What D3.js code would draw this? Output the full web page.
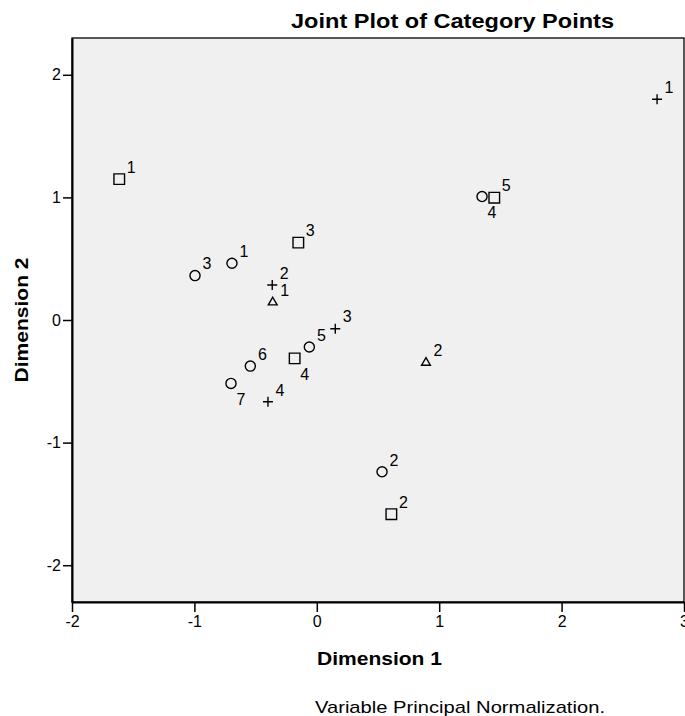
<!DOCTYPE html>
<head>
  <meta charset="utf-8">
  <style>
    body { margin: 0; background: #ffffff; }
    text { font-family: "Liberation Sans", Arial, sans-serif; fill: #000; }
  </style>
  <title>Joint Plot of Category Points</title>
</head>

<body>
  <script src="https://cdn.jsdelivr.net/npm/d3@7"></script>

  <script>
    // category points, one array per variable
    var squareCats = ["1", "2", "3", "4", "5"];
    var squareDim1 = [-1.614, 0.609, -0.151, -0.181, 1.450];
    var squareDim2 = [1.149, -1.584, 0.631, -0.313, 0.998];

    var circleCats = ["1", "2", "3", "4", "5", "6", "7"];
    var circleDim1 = [-0.693, 0.533, -0.995, 1.350, -0.061, -0.543, -0.701];
    var circleDim2 = [0.463, -1.238, 0.362, 1.007, -0.220, -0.376, -0.517];

    var plusCats = ["1", "2", "3", "4"];
    var plusDim1 = [2.780, -0.364, 0.151, -0.399];
    var plusDim2 = [1.800, 0.286, -0.071, -0.667];

    var triangleCats = ["1", "2"];
    var triangleDim1 = [-0.360, 0.892];
    var triangleDim2 = [0.144, -0.348];

    // tick labels
    var xTicks = [-2, -1, 0, 1, 2, 3];
    var yTicks = [-2, -1, 0, 1, 2];

    // labels that SPSS pushed below their marker
    var labelsBelow = ["square-4", "circle-7", "circle-4"];

    // dimensions
    var width = 685;
    var height = 716;
    var plotLeft = 72, plotRight = 684, plotTop = 38, plotBottom = 602;

    var x = d3.scaleLinear().domain([-2, 3]).range([plotLeft, plotRight]);
    var y = d3.scaleLinear().domain([-2.3, 2.3]).range([plotBottom, plotTop]);

    // thin stroke symbols
    var plusSymbol = {
      draw: function (ctx, size) {
        var r = Math.sqrt(size) / 2;
        ctx.moveTo(-r, 0); ctx.lineTo(r, 0);
        ctx.moveTo(0, -r); ctx.lineTo(0, r);
      }
    };
    var triangleSymbol = {
      draw: function (ctx, size) {
        var s = Math.sqrt(size) * 0.6824, t = s / 2, u = s * Math.sqrt(3) / 2;
        ctx.moveTo(0, -s); ctx.lineTo(u, t); ctx.lineTo(-u, t); ctx.closePath();
      }
    };

    var groups = [
      { key: "square", cats: squareCats, d1: squareDim1, d2: squareDim2, type: d3.symbolSquare, size: 112 },
      { key: "circle", cats: circleCats, d1: circleDim1, d2: circleDim2, type: d3.symbolCircle, size: 80 },
      { key: "plus", cats: plusCats, d1: plusDim1, d2: plusDim2, type: plusSymbol, size: 100 },
      { key: "triangle", cats: triangleCats, d1: triangleDim1, d2: triangleDim2, type: triangleSymbol, size: 56 }
    ];

    var points = [];
    groups.forEach(function (g) {
      g.cats.forEach(function (c, i) {
        points.push({ id: g.key + "-" + c, label: c, d1: g.d1[i], d2: g.d2[i], type: g.type, size: g.size });
      });
    });

    var svg = d3.select("body").append("svg")
      .attr("width", width)
      .attr("height", height);

    // plot background
    svg.append("rect")
      .attr("x", plotLeft)
      .attr("y", plotTop)
      .attr("width", plotRight - plotLeft)
      .attr("height", plotBottom - plotTop)
      .attr("fill", "#f0f0f0")
      .attr("stroke", "#000")
      .attr("stroke-width", 1.3);

    // X axis
    var xAxis = svg.append("g")
      .attr("transform", "translate(0," + plotBottom + ")")
      .call(d3.axisBottom(x).tickValues(xTicks).tickFormat(function (d) { return String(d); })
        .tickSize(10).tickPadding(4).tickSizeOuter(0));
    xAxis.select(".domain").attr("stroke-width", 2);
    xAxis.selectAll("line").attr("stroke-width", 1.5);
    xAxis.selectAll("text").style("font-size", "16px").attr("fill", "#000");

    // Y axis
    var yAxis = svg.append("g")
      .attr("transform", "translate(" + plotLeft + ",0)")
      .call(d3.axisLeft(y).tickValues(yTicks).tickFormat(function (d) { return String(d); })
        .tickSize(9).tickPadding(2).tickSizeOuter(0));
    yAxis.select(".domain").attr("stroke-width", 2);
    yAxis.selectAll("line").attr("stroke-width", 1.5);
    yAxis.selectAll("text").style("font-size", "16px").attr("fill", "#000");

    // markers
    svg.selectAll("path.pt").data(points).enter().append("path")
      .attr("class", "pt")
      .attr("transform", function (d) { return "translate(" + x(d.d1) + "," + y(d.d2) + ")"; })
      .attr("d", function (d) { return d3.symbol().type(d.type).size(d.size)(); })
      .attr("fill", "none")
      .attr("stroke", "#000")
      .attr("stroke-width", 1.4);

    // category labels
    svg.selectAll("text.lbl").data(points).enter().append("text")
      .attr("class", "lbl")
      .attr("x", function (d) { return x(d.d1) + (labelsBelow.indexOf(d.id) >= 0 ? 10 : 12); })
      .attr("y", function (d) { return y(d.d2) + (labelsBelow.indexOf(d.id) >= 0 ? 16 : -12); })
      .attr("dy", "0.36em")
      .attr("text-anchor", "middle")
      .style("font-size", "16px")
      .text(function (d) { return d.label; });

    // title
    svg.append("text")
      .attr("x", 291)
      .attr("y", 28)
      .attr("textLength", 323)
      .attr("lengthAdjust", "spacingAndGlyphs")
      .style("font-size", "21px")
      .style("font-weight", "bold")
      .text("Joint Plot of Category Points");

    // axis titles
    svg.append("text")
      .attr("x", 317)
      .attr("y", 665)
      .attr("textLength", 125)
      .attr("lengthAdjust", "spacingAndGlyphs")
      .style("font-size", "18px")
      .style("font-weight", "bold")
      .text("Dimension 1");

    svg.append("text")
      .attr("transform", "translate(28,320) rotate(-90)")
      .attr("text-anchor", "middle")
      .attr("textLength", 125)
      .attr("lengthAdjust", "spacingAndGlyphs")
      .style("font-size", "18px")
      .style("font-weight", "bold")
      .text("Dimension 2");

    // footnote
    svg.append("text")
      .attr("x", 315)
      .attr("y", 713)
      .attr("textLength", 290)
      .attr("lengthAdjust", "spacingAndGlyphs")
      .style("font-size", "17px")
      .text("Variable Principal Normalization.");
  </script>
</body>
